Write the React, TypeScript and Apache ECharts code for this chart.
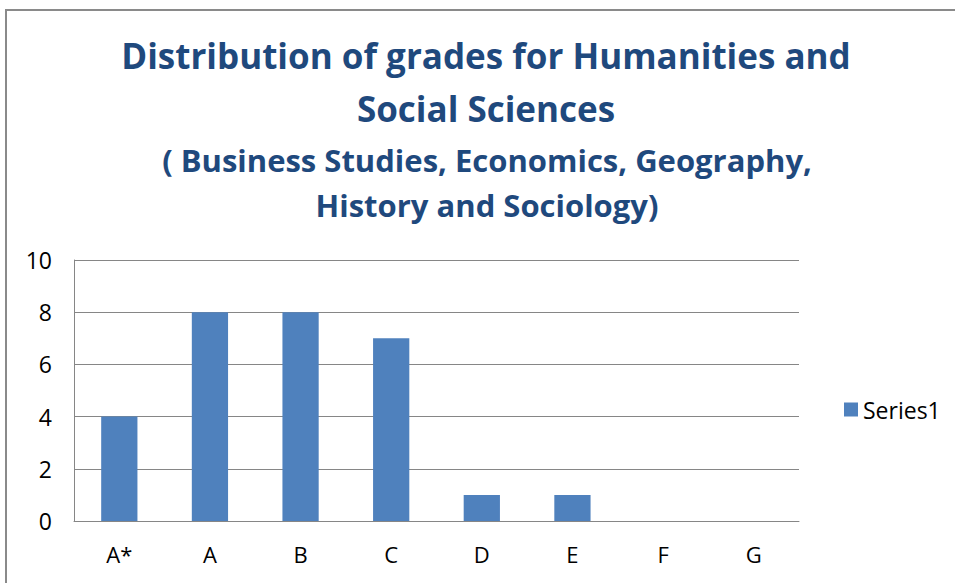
import React, { useEffect, useRef } from "react";
import * as echarts from "echarts";

const categories = ["A*", "A", "B", "C", "D", "E", "F", "G"];
const series1 = [4, 8, 8, 7, 1, 1, 0, 0];
const titleText = "Distribution of grades for Humanities and\nSocial Sciences";
const subtitleText = "( Business Studies, Economics, Geography,\nHistory and Sociology)";

const FONT = "'Open Sans', Lato, sans-serif";

export default function App() {
  const ref = useRef<HTMLDivElement>(null);
  useEffect(() => {
    document.body.style.margin = "0";
    const chart = echarts.init(ref.current!, null, { renderer: "svg" });
    chart.setOption({
      animation: false,
      backgroundColor: "#ffffff",
      textStyle: { fontFamily: FONT },
      graphic: [
        {
          type: "rect",
          shape: { x: 6, y: 10, width: 1100, height: 1000 },
          style: { fill: "none", stroke: "#8a8a8a", lineWidth: 2 },
          silent: true,
        },
      ],
      title: [
        {
          text: titleText,
          left: 481,
          top: 24,
          textAlign: "center",
          textStyle: {
            fontFamily: FONT,
            fontWeight: "bold",
            fontSize: 35,
            lineHeight: 53,
            color: "#1F497D",
          },
        },
        {
          text: subtitleText,
          left: 482,
          top: 132,
          textAlign: "center",
          textStyle: {
            fontFamily: FONT,
            fontWeight: "bold",
            fontSize: 31,
            lineHeight: 45,
            color: "#1F497D",
          },
        },
      ],
      legend: {
        data: ["Series1"],
        orient: "vertical",
        left: 844,
        top: 398,
        padding: 0,
        itemWidth: 14,
        itemHeight: 14,
        itemGap: 6,
        icon: "rect",
        textStyle: { fontFamily: FONT, fontSize: 23, color: "#000000" },
      },
      grid: { left: 74, top: 260, right: 156, bottom: 62, containLabel: false },
      xAxis: {
        type: "category",
        data: categories,
        axisLine: { show: true, lineStyle: { color: "#868686", width: 1 } },
        axisTick: { show: false },
        axisLabel: { fontFamily: FONT, fontSize: 22, color: "#000000", margin: 22 },
      },
      yAxis: {
        type: "value",
        min: 0,
        max: 10,
        interval: 2,
        axisLine: { show: true, lineStyle: { color: "#868686", width: 1 } },
        axisTick: { show: false },
        splitLine: { show: true, lineStyle: { color: "#868686", width: 1 } },
        axisLabel: { fontFamily: FONT, fontSize: 23, color: "#000000", margin: 22 },
      },
      series: [
        {
          name: "Series1",
          type: "bar",
          data: series1,
          barWidth: "40%",
          itemStyle: { color: "#4F81BD" },
        },
      ],
    });
    return () => chart.dispose();
  }, []);
  return <div ref={ref} style={{ width: 955, height: 583 }} />;
}
